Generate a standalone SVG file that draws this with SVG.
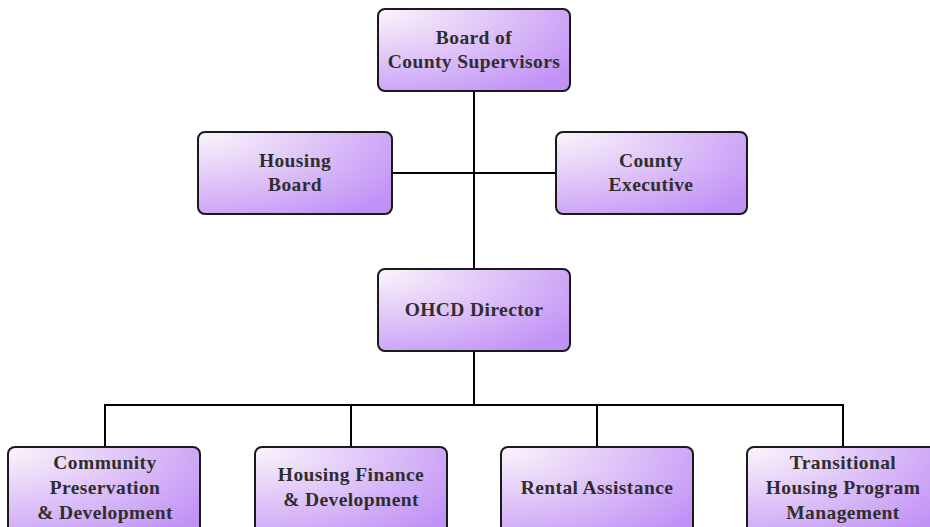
<svg xmlns="http://www.w3.org/2000/svg" width="930" height="527" viewBox="0 0 930 527">
  <defs>
    <radialGradient id="boxFill" cx="0" cy="0" r="1.25" fx="0" fy="0">
      <stop offset="0" stop-color="#fbf5fb"/>
      <stop offset="0.45" stop-color="#e2c9f8"/>
      <stop offset="1" stop-color="#c192f6"/>
    </radialGradient>
    <style>
      .box { fill: url(#boxFill); stroke: #1a1a1a; stroke-width: 2; }
      .lbl { font-family: "Liberation Serif", "Times New Roman", serif; font-weight: bold; font-size: 19.5px; letter-spacing: 0.4px; fill: #2e2e2e; text-anchor: middle; }
      .wire { fill: none; stroke: #000000; stroke-width: 2; }
    </style>
  </defs>
  <rect width="930" height="527" fill="#ffffff"/>

  <g id="connectors">
    <line class="wire" x1="474" y1="91" x2="474" y2="269"/>
    <line class="wire" x1="392" y1="173" x2="556" y2="173"/>
    <line class="wire" x1="474" y1="351" x2="474" y2="405"/>
    <polyline class="wire" points="105,447 105,405 843,405 843,447"/>
    <line class="wire" x1="351" y1="405" x2="351" y2="447"/>
    <line class="wire" x1="597" y1="405" x2="597" y2="447"/>
  </g>

  <g id="board">
    <rect class="box" x="378" y="9" width="192" height="82" rx="7"/>
    <text class="lbl" x="474" y="44">Board of</text>
    <text class="lbl" x="474" y="68">County Supervisors</text>
  </g>

  <g id="housing-board">
    <rect class="box" x="198" y="132" width="194" height="82" rx="7"/>
    <text class="lbl" x="295" y="167">Housing</text>
    <text class="lbl" x="295" y="191">Board</text>
  </g>

  <g id="county-executive">
    <rect class="box" x="556" y="132" width="191" height="82" rx="7"/>
    <text class="lbl" x="651" y="167">County</text>
    <text class="lbl" x="651" y="191">Executive</text>
  </g>

  <g id="ohcd-director">
    <rect class="box" x="378" y="269" width="192" height="82" rx="7"/>
    <text class="lbl" x="474" y="316">OHCD Director</text>
  </g>

  <g id="community-preservation">
    <rect class="box" x="8" y="447" width="192" height="90" rx="7"/>
    <text class="lbl" x="105" y="469">Community</text>
    <text class="lbl" x="105" y="494">Preservation</text>
    <text class="lbl" x="105" y="519">&amp; Development</text>
  </g>

  <g id="housing-finance">
    <rect class="box" x="255" y="447" width="192" height="90" rx="7"/>
    <text class="lbl" x="351" y="481">Housing Finance</text>
    <text class="lbl" x="351" y="506">&amp; Development</text>
  </g>

  <g id="rental-assistance">
    <rect class="box" x="501" y="447" width="192" height="90" rx="7"/>
    <text class="lbl" x="597" y="494">Rental Assistance</text>
  </g>

  <g id="transitional-housing">
    <rect class="box" x="747" y="447" width="192" height="90" rx="7"/>
    <text class="lbl" x="843" y="469">Transitional</text>
    <text class="lbl" x="843" y="494">Housing Program</text>
    <text class="lbl" x="843" y="519">Management</text>
  </g>
</svg>
